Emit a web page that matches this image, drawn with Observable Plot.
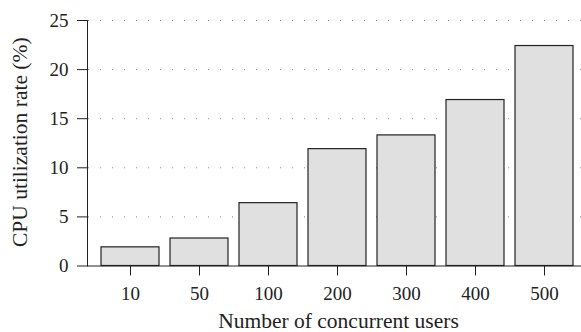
<!DOCTYPE html>
<html><head><meta charset="utf-8">
<script src="https://cdn.jsdelivr.net/npm/d3@7"></script>
<script src="https://cdn.jsdelivr.net/npm/@observablehq/plot@0.6"></script>
<style>body{margin:0;background:#fff}</style>
</head><body><div id="chart"></div>
<script>
const users = ["10", "50", "100", "200", "300", "400", "500"];
const cpu = [1.9, 2.8, 6.4, 11.9, 13.3, 16.9, 22.4];
const yTicks = [0, 5, 10, 15, 20, 25];
const gridTicks = [5, 10, 15, 20, 25];
const yLabel = "CPU utilization rate (%)";
const xLabel = "Number of concurrent users";
const data = users.map((u, i) => ({users: u, cpu: cpu[i]}));
const chart = Plot.plot({
  width: 581, height: 332,
  marginLeft: 87, marginRight: -6, marginTop: 20, marginBottom: 66.5,
  style: {fontFamily: "'Liberation Serif', serif", fontSize: "19px", color: "#222", background: "#fff"},
  x: {domain: users, paddingInner: 0.165, paddingOuter: 0.187},
  y: {domain: [0, 25]},
  marks: [
    Plot.gridY(gridTicks, {stroke: "#888", strokeOpacity: 1, strokeDasharray: "1,11", strokeDashoffset: 11}),
    Plot.barY(data, {x: "users", y: "cpu", fill: "#e0e0e0", stroke: "#222", strokeWidth: 1.2}),
    Plot.ruleY([0], {stroke: "#222"}),
    Plot.frame({anchor: "left", stroke: "#222"}),
    Plot.axisY(yTicks, {tickSize: 10, tickPadding: 9, label: null}),
    Plot.axisX({tickSize: 10, tickPadding: 10, label: null}),
    Plot.text([yLabel], {text: d => d, frameAnchor: "left", textAnchor: "middle", lineAnchor: "middle", rotate: -90, dx: -67, dy: -1, fontSize: 21.5, fill: "#222"}),
    Plot.text([xLabel], {text: d => d, frameAnchor: "bottom", textAnchor: "middle", lineAnchor: "middle", dx: 1, dy: 55, fontSize: 21.5, fill: "#222"})
  ]
});
document.getElementById("chart").appendChild(chart);
</script>
</body></html>
